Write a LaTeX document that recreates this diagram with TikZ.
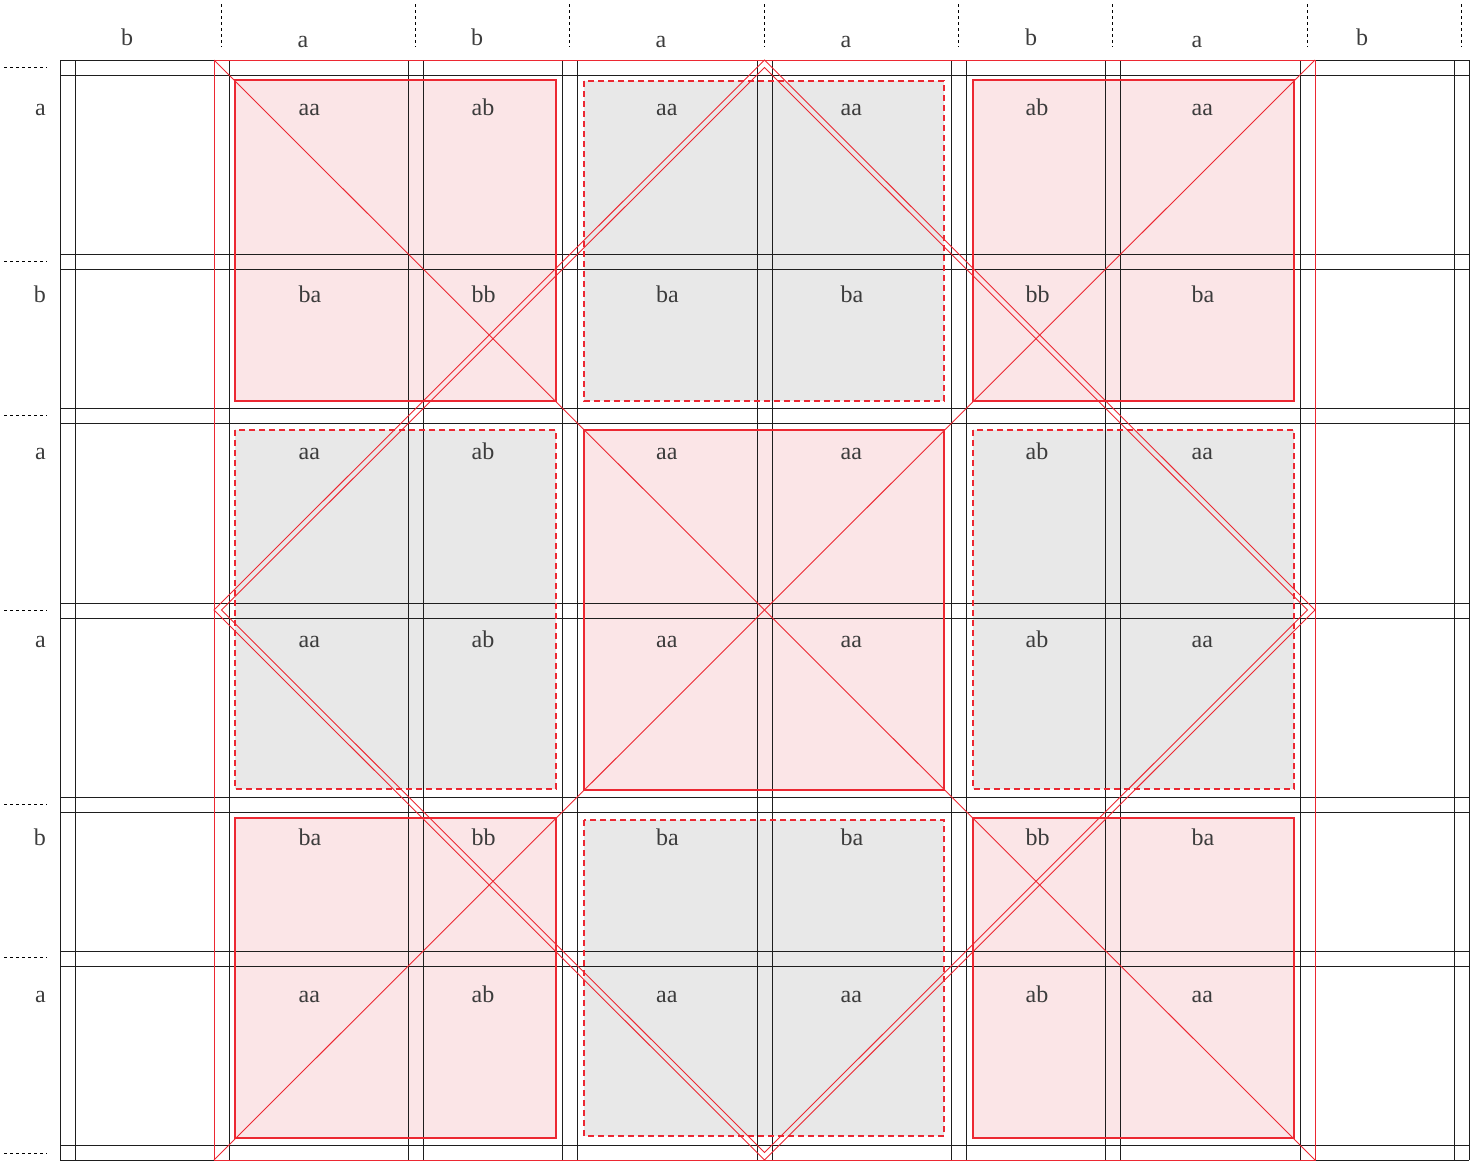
\documentclass[tikz,border=0pt]{standalone}
\usepackage{fontspec}
\setmainfont{Liberation Serif}
\definecolor{rd}{RGB}{236,40,50}
\definecolor{pinkfill}{RGB}{251,229,231}
\definecolor{grayfill}{RGB}{232,232,232}
\definecolor{gridc}{RGB}{30,30,30}
\definecolor{txt}{RGB}{60,60,60}
\begin{document}
\begin{tikzpicture}[x=1pt,y=-1pt,
  gridline/.style={draw=gridc, line width=1pt},
  redline/.style={draw=rd, line width=0.9pt},
  pinkborder/.style={draw=rd, line width=1.7pt},
  grayborder/.style={draw=rd, line width=1.7pt, dash pattern=on 6pt off 4pt},
  sepline/.style={draw=black, line width=1.8pt, dash pattern=on 3pt off 3pt},
  lab/.style={text=txt, font=\fontsize{24}{24}\selectfont, inner sep=0pt}]
\useasboundingbox (0,0) rectangle (1470,1163);

% block fills
\foreach \xa/\ya/\xb/\yb in {235/80/556/401, 973/80/1294/401, 584/430/944/790, 235/818/556/1138, 973/818/1294/1138}
  \fill[pinkfill] (\xa,\ya) rectangle (\xb,\yb);
\foreach \xa/\ya/\xb/\yb in {584/81/944/401, 235/430/556/789, 973/430/1294/789, 584/820/944/1136}
  \fill[grayfill] (\xa,\ya) rectangle (\xb,\yb);

% grid double lines
\foreach \x in {67.5,221.5,415.5,569.5,764.5,958.5,1112.5,1307.5,1461.5} {
  \draw[gridline] (\x-7.5,60) -- (\x-7.5,1160);
  \draw[gridline] (\x+7.5,60) -- (\x+7.5,1160);
}
\foreach \y in {67.5,261.5,415.5,610.5,804.5,958.5,1152.5} {
  \draw[gridline] (60,\y-7.5) -- (1469,\y-7.5);
  \draw[gridline] (60,\y+7.5) -- (1469,\y+7.5);
}

% block borders
\foreach \xa/\ya/\xb/\yb in {235/80/556/401, 973/80/1294/401, 584/430/944/790, 235/818/556/1138, 973/818/1294/1138}
  \draw[pinkborder] (\xa,\ya) rectangle (\xb,\yb);
\foreach \xa/\ya/\xb/\yb in {584/81/944/401, 235/430/556/789, 973/430/1294/789, 584/820/944/1136}
  \draw[grayborder] (\xa,\ya) rectangle (\xb,\yb);

% red square, diagonals, double diamond
\coordinate (tl) at (214,60);
\coordinate (tr) at (1315,60);
\coordinate (bl) at (214,1160);
\coordinate (br) at (1315,1160);
\draw[redline] (tl) rectangle (br);
\draw[redline] (tl) -- (br);
\draw[redline] (tr) -- (bl);
\coordinate (dt) at (764.5,60);
\coordinate (dl) at (214,610);
\coordinate (db) at (764.5,1160);
\coordinate (dr) at (1315,610);
\draw[redline] (dt) -- (dl) -- (db) -- (dr) -- cycle;
\coordinate (it) at (764.5,67.5);
\coordinate (il) at (221.5,610);
\coordinate (ib) at (764.5,1152.5);
\coordinate (ir) at (1307.5,610);
\draw[redline] (it) -- (il) -- (ib) -- (ir) -- cycle;

% dashed separators
\foreach \x in {221.5,415.5,569.5,764.5,958.5,1112.5,1307.5,1461.5}
  \draw[sepline] (\x,4) -- (\x,47);
\foreach \y in {67.5,261.5,415.5,610.5,804.5,957.5,1153.5}
  \draw[sepline] (4,\y) -- (47,\y);

% column headers
\foreach \c/\x/\yb [count=\i] in {b/127/45, a/303/47.3, b/477/45, a/661/47.3, a/846/47.3, b/1031/45, a/1197/47.3, b/1362/45}
  \node[lab, anchor=base] (h\i) at (\x,\yb) {\c};

% row labels and cell labels
\foreach \r/\yb [count=\j] in {a/115.7, b/302.3, a/459, a/647.3, b/845, a/1002.3} {
  \node[lab, anchor=base east] (r\j) at (46,\yb) {\r};
  \foreach \c/\xl [count=\i] in {a/298.5, b/471.5, a/656, a/840.5, b/1025.5, a/1191.5}
    \node[lab, anchor=base west] (c\j-\i) at (\xl,\yb) {\r\c};
}
\end{tikzpicture}
\end{document}
